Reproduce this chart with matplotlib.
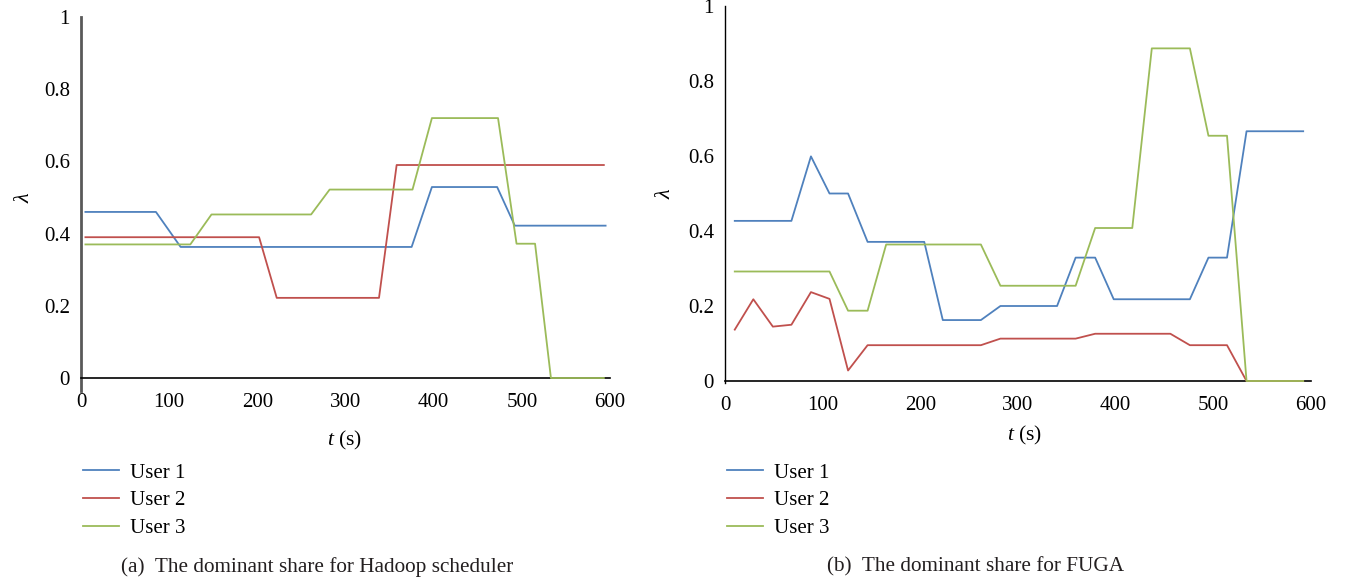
import matplotlib
matplotlib.use("Agg")
import matplotlib.pyplot as plt

# fonts: serif look like the paper
plt.rcParams['font.family'] = ['Liberation Serif', 'DejaVu Serif']
plt.rcParams['mathtext.fontset'] = 'custom'
plt.rcParams['mathtext.it'] = 'Liberation Serif:italic'
plt.rcParams['mathtext.rm'] = 'Liberation Serif'

# (a) Hadoop scheduler - breakpoints per user
t_a_user1 = [5, 85, 113, 375, 398, 472, 492, 595]
a_user1 = [0.46, 0.46, 0.363, 0.363, 0.529, 0.529, 0.422, 0.422]
t_a_user2 = [5, 202, 222, 338, 358, 593]
a_user2 = [0.39, 0.39, 0.222, 0.222, 0.59, 0.59]
t_a_user3 = [5, 124, 148, 261, 282, 376, 398, 473, 494, 515, 533, 593]
a_user3 = [0.37, 0.37, 0.453, 0.453, 0.522, 0.522, 0.72, 0.72, 0.372, 0.372, 0, 0]

# (b) FUGA - sampled on a common time grid
t_b = [10, 29, 49, 68, 88, 107, 126, 146, 165, 185, 204, 223, 243, 262, 282, 301,
       320, 340, 359, 379, 398, 417, 437, 456, 476, 495, 514, 534, 553, 573, 592]
b_user1 = [0.427, 0.427, 0.427, 0.427, 0.599, 0.5, 0.5, 0.371, 0.371, 0.371, 0.371,
           0.1625, 0.1625, 0.1625, 0.2, 0.2, 0.2, 0.2, 0.329, 0.329, 0.218, 0.218,
           0.218, 0.218, 0.218, 0.329, 0.329, 0.666, 0.666, 0.666, 0.666]
b_user2 = [0.137, 0.218, 0.145, 0.15, 0.237, 0.219, 0.028, 0.0955, 0.0955, 0.0955,
           0.0955, 0.0955, 0.0955, 0.0955, 0.113, 0.113, 0.113, 0.113, 0.113, 0.126,
           0.126, 0.126, 0.126, 0.126, 0.0955, 0.0955, 0.0955, 0, 0, 0, 0]
b_user3 = [0.292, 0.292, 0.292, 0.292, 0.292, 0.292, 0.1875, 0.1875, 0.364, 0.364,
           0.364, 0.364, 0.364, 0.364, 0.254, 0.254, 0.254, 0.254, 0.254, 0.408,
           0.408, 0.408, 0.887, 0.887, 0.887, 0.654, 0.654, 0, 0, 0, 0]

labels = ["User 1", "User 2", "User 3"]
colors = ["#4F81BD", "#C0504D", "#9BBB59"]
xticks = [0, 100, 200, 300, 400, 500, 600]
yticks = [0, 0.2, 0.4, 0.6, 0.8, 1]
yticklabels = ["0", "0.2", "0.4", "0.6", "0.8", "1"]

W, H = 1345, 581
fig = plt.figure(figsize=(W / 100, H / 100), dpi=100)

ax1 = fig.add_axes([81 / W, 1 - 378 / H, 529 / W, 361 / H])
ax2 = fig.add_axes([725 / W, 1 - 381 / H, 586 / W, 375 / H])

line_kw = dict(lw=1.3, zorder=3, clip_on=False)
ax1.plot(t_a_user1, a_user1, color=colors[0], label=labels[0], **line_kw)
ax1.plot(t_a_user2, a_user2, color=colors[1], label=labels[1], **line_kw)
ax1.plot(t_a_user3, a_user3, color=colors[2], label=labels[2], **line_kw)

ax2.plot(t_b, b_user1, color=colors[0], label=labels[0], **line_kw)
ax2.plot(t_b, b_user2, color=colors[1], label=labels[1], **line_kw)
ax2.plot(t_b, b_user3, color=colors[2], label=labels[2], **line_kw)

for ax in (ax1, ax2):
    ax.set_xlim(0, 600)
    ax.set_ylim(0, 1)
    ax.set_xticks(xticks)
    ax.set_yticks(yticks)
    ax.set_yticklabels(yticklabels)
    ax.tick_params(axis='x', length=0, pad=11, labelsize=15)
    ax.tick_params(axis='y', length=0, pad=8, labelsize=15)
    ax.spines['top'].set_visible(False)
    ax.spines['right'].set_visible(False)
    ax.spines['bottom'].set_color('black')
    ax.spines['bottom'].set_linewidth(1.2)
    ax.set_facecolor('none')
    ax.set_ylabel(r"$\lambda$", fontsize=16)
    ax.set_xlabel(r"$t$ (s)", fontsize=15.5)
    ax.legend(loc='upper left', frameon=False, fontsize=15,
              handlelength=1.75, handletextpad=0.5, labelspacing=0.39,
              borderpad=0, borderaxespad=0,
              bbox_to_anchor=(ax.get_position().x0 + 2 / W, 1 - 463 / H),
              bbox_transform=fig.transFigure)

# left panel: thick grey axis, right panel: thin black
ax1.spines['left'].set_color('#595959')
ax1.spines['left'].set_linewidth(2.0)
ax1.spines['left'].set_bounds(-0.035, 1)
ax2.spines['left'].set_color('black')
ax2.spines['left'].set_linewidth(1.0)
ax2.spines['left'].set_bounds(-0.005, 1)

ax1.yaxis.set_label_coords(-0.089, 0.5)
ax2.yaxis.set_label_coords(-0.086, 0.5)
ax1.xaxis.set_label_coords(0.499, -0.141)
ax2.xaxis.set_label_coords(0.512, -0.115)

fig.text(317 / W, 1 - 567 / H, "(a)  The dominant share for Hadoop scheduler",
         ha='center', va='center', fontsize=15.3, color='#231f20')
fig.text(976 / W, 1 - 567 / H, "(b)  The dominant share for FUGA",
         ha='center', va='center', fontsize=15.3, color='#231f20')

fig.savefig("out.png", dpi=100)
